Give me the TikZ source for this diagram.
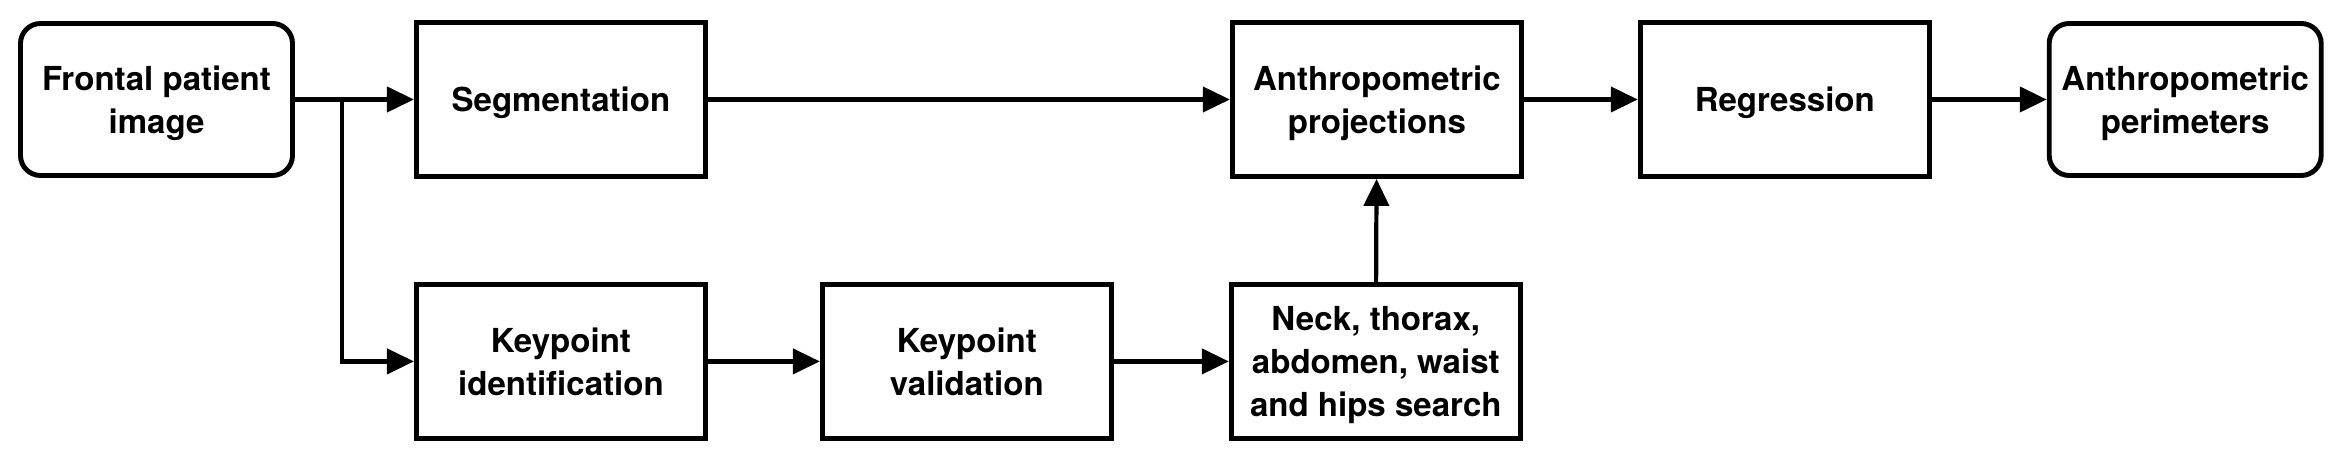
\documentclass[tikz,border=0pt]{standalone}
\usepackage{fontspec}
\setmainfont{TeX Gyre Heros}
\usepackage{tikz}
\usetikzlibrary{arrows.meta, positioning}
\tikzset{
  %% Rounded terminal box
  termbox/.style={
    rectangle, rounded corners=0.2cm,
    draw=black, fill=white,
    text centered, align=center, text depth=0pt,
    minimum width=2.72cm, minimum height=1.52cm,
    inner sep=2pt, line width=1.4pt
  },
  %% Process box
  procbox/.style={
    rectangle, draw=black, fill=white,
    text centered, align=center, text depth=0pt,
    minimum width=2.89cm, minimum height=1.54cm,
    inner sep=2pt, line width=1.4pt
  },
  %% Arrow
  arr/.style={-{Triangle[length=2.7mm,width=2.5mm]},
              draw=black, line width=1.2pt},
}
\begin{document}
\begin{tikzpicture}[every node/.style={font=\fontsize{9.4}{12.2}\selectfont\bfseries},
                    node distance=1.05cm and 1.15cm]

  \useasboundingbox (0,0) rectangle (23.42,4.66);

  %% Top row
  \node[termbox] (frontal) at (1.565,3.665) {Frontal patient\\image};
  \node[procbox, right=1.19cm of frontal] (seg) {Segmentation};
  \node[procbox, right=5.22cm of seg]     (proj) {Anthropometric\\projections};
  \node[procbox, right=1.14cm of proj]    (regr) {Regression};
  \node[termbox, right=1.15cm of regr]    (perim) {Anthropometric\\perimeters};

  %% Bottom row
  \node[procbox, below=1.03cm of seg]      (keyid) {Keypoint\\identification};
  \node[procbox, right=1.12cm of keyid]    (keyval) {Keypoint\\validation};
  \node[procbox, right=of keyval]          (neck) {Neck, thorax,\\abdomen, waist\\and hips search};

  %% Branch point
  \path (frontal.east) ++(0.47,0) coordinate (br);

  %% Arrows
  \draw[arr] (frontal) -- (seg);
  \draw[arr] (br) |- (keyid);
  \draw[arr] (seg)    -- (proj);
  \draw[arr] (proj)   -- (regr);
  \draw[arr] (regr)   -- (perim);
  \draw[arr] (keyid)  -- (keyval);
  \draw[arr] (keyval) -- (neck);
  \draw[arr] (neck)   -- (proj);

\end{tikzpicture}
\end{document}
